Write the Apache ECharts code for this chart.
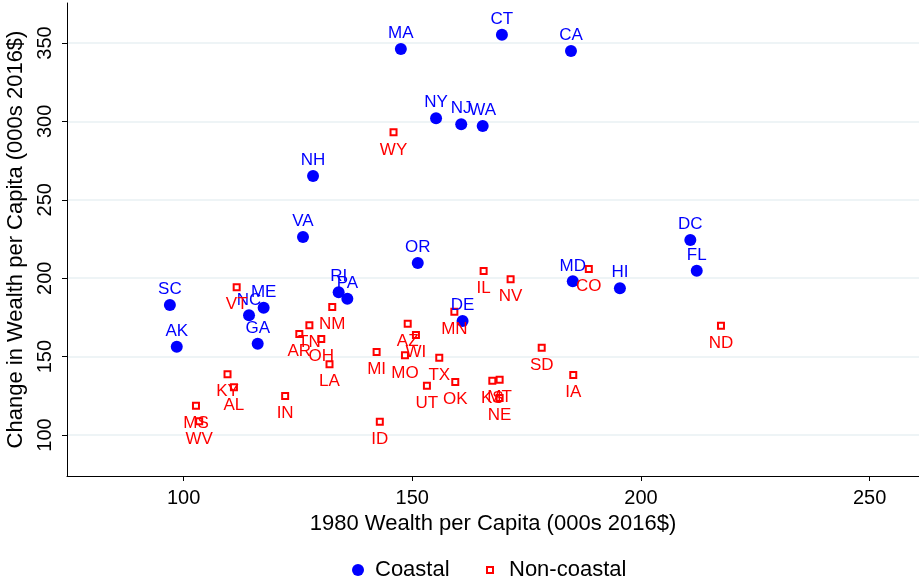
<!DOCTYPE html>
<html>
<head>
<meta charset="utf-8">
<script src="https://cdn.jsdelivr.net/npm/echarts@6/dist/echarts.min.js"></script>
<style>html,body{margin:0;padding:0;background:#fff}#c{width:919px;height:585px}</style>
</head>
<body>
<div id="c"></div>
<script>
const coastalStates = ['SC','AK','NC','ME','GA','RI','PA','VA','NH','MA','CT','CA','NY','NJ','WA','OR','DE','MD','HI','DC','FL'];
const coastalX = [97.0, 98.5, 114.3, 117.5, 116.2, 133.9, 135.8, 126.1, 128.3, 147.5, 169.6, 184.7, 155.2, 160.7, 165.4, 151.2, 161.0, 185.1, 195.4, 210.8, 212.2];
const coastalY = [182.9, 156.3, 176.3, 181.2, 158.2, 191.0, 186.9, 226.3, 265.2, 346.2, 355.3, 344.9, 302.0, 298.2, 297.1, 209.7, 172.7, 198.0, 193.6, 224.4, 204.8];

const noncoastalStates = ['VT','NM','TN','AR','OH','LA','MI','KY','AL','IN','MS','WV','ID','IL','NV','CO','MN','AZ','WI','MO','TX','UT','OK','KS','MT','NE','SD','IA','ND','WY'];
const noncoastalX = [111.6, 132.5, 127.5, 125.3, 130.1, 131.9, 142.2, 109.6, 111.0, 122.2, 102.7, 103.4, 142.9, 165.6, 171.5, 188.6, 159.2, 149.0, 150.8, 148.4, 155.9, 153.2, 159.4, 167.5, 169.1, 169.1, 178.3, 185.2, 217.5, 145.9];
const noncoastalY = [194.2, 181.6, 170.0, 164.4, 161.2, 145.1, 152.9, 138.7, 130.4, 124.9, 118.6, 108.7, 108.5, 204.6, 199.3, 205.9, 178.6, 171.0, 163.8, 150.8, 149.3, 131.4, 133.8, 134.6, 135.3, 123.6, 155.7, 138.3, 169.7, 293.0];

const xTicks = [100, 150, 200, 250];
const yTicks = [100, 150, 200, 250, 300, 350];

const FONT = "'Liberation Sans', Arial, Helvetica, sans-serif";
const BLUE = '#0000ff';
const RED = '#ff0000';

function pts(xs, ys, names) {
  return xs.map((x, i) => ({ name: names[i], value: [x, ys[i]] }));
}

const chart = echarts.init(document.getElementById('c'), null, { renderer: 'canvas' });
chart.setOption({
  animation: false,
  backgroundColor: '#ffffff',
  textStyle: { fontFamily: FONT },
  grid: { left: 67, right: 0, top: 3, bottom: 109, containLabel: false, outerBoundsMode: 'none' },
  xAxis: {
    type: 'value', min: 74.5, max: 260.8,
    name: '1980 Wealth per Capita (000s 2016$)',
    nameLocation: 'middle', nameGap: 35,
    nameTextStyle: { fontFamily: FONT, fontSize: 22, color: '#000' },
    axisLine: { show: true, onZero: false, lineStyle: { color: '#000', width: 1 } },
    axisTick: { show: true, inside: false, length: 5, customValues: xTicks, lineStyle: { color: '#000' } },
    axisLabel: { customValues: xTicks, margin: 12, fontFamily: FONT, fontSize: 20, color: '#000' },
    splitLine: { show: false }
  },
  yAxis: {
    type: 'value', min: 73.85, max: 375.5,
    name: 'Change in Wealth per Capita (000s 2016$)',
    nameLocation: 'middle', nameGap: 38, nameRotate: 90,
    nameTextStyle: { fontFamily: FONT, fontSize: 22, color: '#000' },
    axisLine: { show: true, onZero: false, lineStyle: { color: '#000', width: 1 } },
    axisTick: { show: true, inside: false, length: 5, customValues: yTicks, lineStyle: { color: '#000' } },
    axisLabel: { customValues: yTicks, rotate: 90, margin: 12, fontFamily: FONT, fontSize: 20, color: '#000' },
    splitLine: { show: true, lineStyle: { color: '#e9f1f3', width: 1.6 } }
  },
  legend: [
    {
      data: ['Coastal'], left: 347, top: 554, itemWidth: 12, itemHeight: 12,
      textStyle: { fontFamily: FONT, fontSize: 22, color: '#000', padding: [0, 0, 0, 6] }
    },
    {
      data: ['Non-coastal'], left: 481, top: 554, itemWidth: 6, itemHeight: 6,
      itemStyle: { borderWidth: 2, borderColor: RED, color: '#fff' },
      textStyle: { fontFamily: FONT, fontSize: 22, color: '#000', padding: [0, 0, 0, 11] }
    }
  ],
  series: [
    {
      name: 'Coastal', type: 'scatter', symbol: 'circle', symbolSize: 12,
      itemStyle: { color: BLUE, opacity: 1 },
      label: { show: true, position: 'top', distance: 1, formatter: '{b}', fontFamily: FONT, fontSize: 17, color: BLUE },
      data: pts(coastalX, coastalY, coastalStates)
    },
    {
      name: 'Non-coastal', type: 'scatter', symbol: 'rect', symbolSize: 6,
      itemStyle: { color: '#fff', borderColor: RED, borderWidth: 2, opacity: 1 },
      label: { show: true, position: 'bottom', distance: 5, formatter: '{b}', fontFamily: FONT, fontSize: 17, color: RED },
      data: pts(noncoastalX, noncoastalY, noncoastalStates)
    }
  ]
});
</script>
</body>
</html>
